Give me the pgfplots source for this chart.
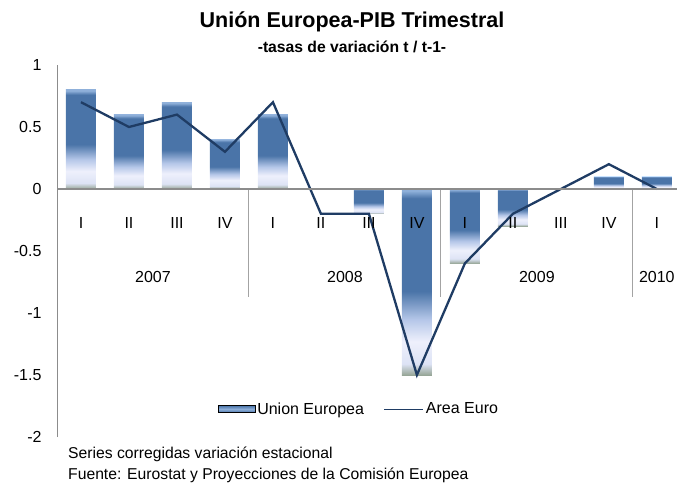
\documentclass[border=0pt]{standalone}
\usepackage{fontspec}
\setmainfont{Liberation Sans}
\usepackage{pgfplots}
\pgfplotsset{compat=1.18}

\definecolor{barblue}{HTML}{4A74A8}
\definecolor{bartop}{HTML}{8FB0DA}
\definecolor{barlight}{HTML}{DDE3F5}
\definecolor{barwhite}{HTML}{EEF0FC}
\definecolor{barlight2}{HTML}{B4C6E8}
\definecolor{bargray}{HTML}{97A697}
\definecolor{euroline}{HTML}{1F3C64}
\definecolor{axisgray}{HTML}{8C8C8C}

% tikz maps the path box onto 25bp..75bp of the shading
\pgfdeclareverticalshading{uebar}{100bp}{color(0bp)=(bargray); color(25bp)=(bargray);
  color(28bp)=(barlight); color(34bp)=(barwhite); color(40bp)=(barlight2);
  color(47.5bp)=(barblue); color(72.5bp)=(barblue); color(74.5bp)=(bartop); color(100bp)=(bartop)}
\pgfdeclareverticalshading{uelegend}{100bp}{color(0bp)=(barblue); color(25bp)=(barblue);
  color(50bp)=(bartop); color(75bp)=(barblue); color(100bp)=(barblue)}

\newcommand{\fs}[1]{\fontsize{#1bp}{#1bp}\selectfont}
% one plot per bar, so that each bar gets its own shading
\newcommand{\uebar}[2]{\addplot[ybar, bar shift=0pt, bar width=30bp, draw=none,
    shading=uebar, forget plot] coordinates {(#1,#2)};}

\begin{document}
\begin{tikzpicture}
\useasboundingbox (-57bp,-46bp) rectangle (620bp,437bp);
\begin{axis}[
    at={(0,0)}, anchor=south west,
    scale only axis,
    width=620bp, height=372bp,
    xmin=-0.5, xmax=12.42,
    ymin=-2, ymax=1,
    axis on top,
    axis x line=middle,
    axis y line=left,
    axis line style={-, draw=axisgray},
    x axis line style={line width=1.5bp},
    major tick length=0pt,
    xtick={0,...,12},
    xticklabels={I,II,III,IV,I,II,III,IV,I,II,III,IV,I},
    xticklabel style={font=\fs{16}, anchor=center, yshift=-34bp},
    ytick={-2,-1.5,-1,-0.5,0,0.5,1},
    yticklabel style={font=\fs{16}, xshift=-12bp},
    /pgf/number format/assume math mode=true,
    /pgf/number format/.cd, fixed, use period, 1000 sep={},
    /pgfplots/.cd,
    clip=false,
    legend style={
        at={(0.487,0.075)}, anchor=center,
        legend columns=2,
        draw=none, fill=none,
        font=\fs{16},
        /tikz/every even column/.append style={column sep=18bp}
    },
]
% Union Europea
\uebar{0}{0.8}
\uebar{1}{0.6}
\uebar{2}{0.7}
\uebar{3}{0.4}
\uebar{4}{0.6}
\uebar{6}{-0.2}
\uebar{7}{-1.5}
\uebar{8}{-0.6}
\uebar{9}{-0.3}
\uebar{11}{0.1}
\uebar{12}{0.1}
\addlegendimage{legend image code/.code={\shade[shading=uelegend] (0bp,-3.5bp) rectangle (37bp,3.5bp);}}
\addlegendentry{Union Europea}
% Area Euro
\addplot[sharp plot, euroline, line width=2.3bp, no markers,
    legend image code/.code={\draw[euroline, line width=1bp] (0bp,0bp) -- (39bp,0bp);}]
  coordinates {
    (0,0.7) (1,0.5) (2,0.6) (3,0.3) (4,0.7) (5,-0.2) (6,-0.2)
    (7,-1.5) (8,-0.6) (9,-0.2) (10,0.0) (11,0.2) (12,0.0)
};
\addlegendentry{Area Euro}
\foreach \s in {3.5,7.5,11.5}{
  \edef\tmp{\noexpand\draw[axisgray!80, line width=1bp] (axis cs:\s,0) -- (axis cs:\s,-0.87);}\tmp
}
\node[font=\fs{16}] at (axis cs:1.5,-0.71) {2007};
\node[font=\fs{16}] at (axis cs:5.5,-0.71) {2008};
\node[font=\fs{16}] at (axis cs:9.5,-0.71) {2009};
\node[font=\fs{16}] at (axis cs:12,-0.71) {2010};
\end{axis}
\node[font=\bfseries\fs{21.5}] at (295bp,415bp) {Unión Europea-PIB Trimestral};
\node[font=\bfseries\fs{15.7}] at (295bp,390bp) {-tasas de variación t / t-1-};
\node[font=\fs{15.7}, anchor=west, inner sep=0pt] at (11bp,-17.5bp) {Series corregidas variación estacional};
\node[font=\fs{15.7}, anchor=west, inner sep=0pt] at (11bp,-38.5bp) {Fuente: Eurostat y Proyecciones de la Comisión Europea};
\end{tikzpicture}
\end{document}
